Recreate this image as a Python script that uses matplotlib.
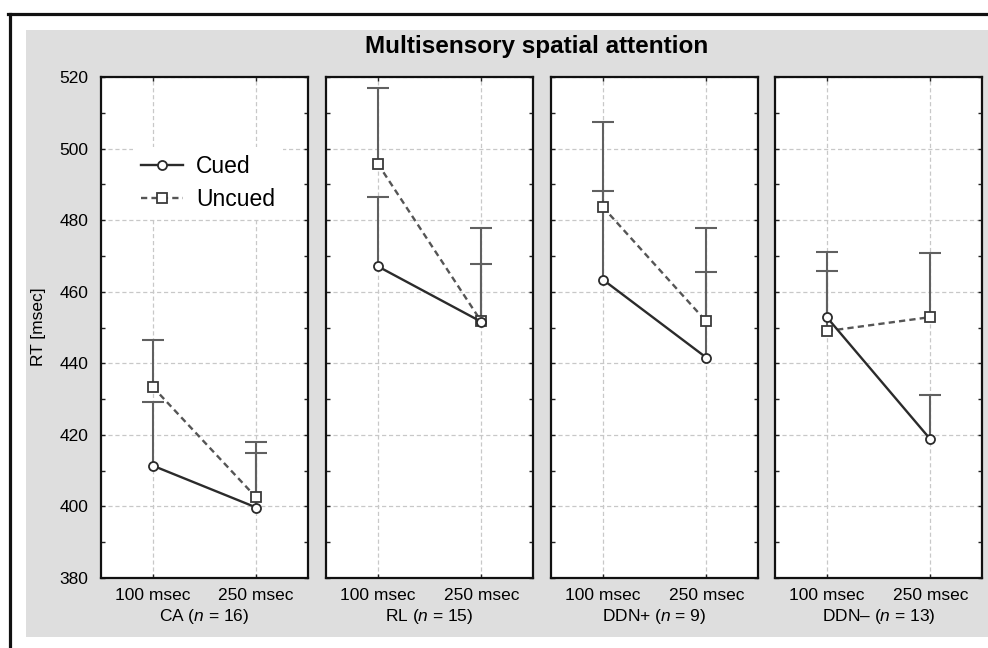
import matplotlib
matplotlib.use('Agg')
import matplotlib.pyplot as plt
from matplotlib.lines import Line2D
from matplotlib.patches import Rectangle
from matplotlib.ticker import MultipleLocator
import numpy as np

plt.rcParams['font.family'] = ['Liberation Sans', 'DejaVu Sans']
plt.rcParams['mathtext.fontset'] = 'custom'
plt.rcParams['mathtext.it'] = 'Liberation Sans:italic'
plt.rcParams['mathtext.rm'] = 'Liberation Sans'
plt.rcParams['lines.scale_dashes'] = False

# data
groups = ['CA', 'RL', 'DDN+', 'DDN\u2013']
group_n = [16, 15, 9, 13]
soa = ['100 msec', '250 msec']
cued_rt = [[411.4, 399.7], [467.1, 451.6], [463.4, 441.6], [452.9, 418.8]]
cued_err = [[17.7, 15.2], [19.5, 16.2], [24.7, 23.8], [18.1, 12.3]]
uncued_rt = [[433.4, 402.5], [495.8, 451.7], [483.7, 451.7], [449.0, 452.9]]
uncued_err = [[13.1, 15.6], [21.2, 26.2], [23.6, 26.2], [16.7, 17.8]]

W, H = 988, 648
fig = plt.figure(figsize=(W / 100, H / 100), dpi=100)

# gray plot area and black frame lines
fig.patches.append(Rectangle((26 / W, 1 - 637 / H), 1, (637 - 30) / H,
                             transform=fig.transFigure, facecolor='#dedede',
                             edgecolor='none', zorder=-10))
fig.add_artist(Line2D([8 / W, 1], [1 - 14 / H, 1 - 14 / H], color='#111111', lw=2.3))
fig.add_artist(Line2D([9.5 / W, 9.5 / W], [0, 1 - 14 / H], color='#111111', lw=2.3))

left_px = [101, 326, 551, 775]
x = np.arange(len(soa))

for i in range(len(groups)):
    ax = fig.add_axes([left_px[i] / W, 1 - 578 / H, 207 / W, 501 / H])
    ax.set_facecolor('white')

    for rt, err in [(cued_rt[i], cued_err[i]), (uncued_rt[i], uncued_err[i])]:
        eb = ax.errorbar(x, rt, yerr=[np.zeros(len(rt)), err], fmt='none',
                         ecolor='#606060', elinewidth=1.5, capsize=8, capthick=1.5, zorder=2)
        # keep only the upper caps
        for cl in eb[1]:
            if np.allclose(cl.get_ydata(), rt):
                cl.set_visible(False)

    ax.plot(x, uncued_rt[i], color='#555555', lw=1.7, ls=(0, (4.5, 3)), marker='s',
            ms=7, mfc='white', mec='#3a3a3a', mew=1.3, zorder=3, label='Uncued')
    ax.plot(x, cued_rt[i], color='#2b2b2b', lw=1.7, ls='-', marker='o',
            ms=6.5, mfc='white', mec='#2b2b2b', mew=1.3, zorder=4, label='Cued')

    ax.set_xlim(-0.5, 1.5)
    ax.set_ylim(380, 520)
    ax.set_xticks(x)
    ax.set_xticklabels(soa, fontsize=12.5)
    ax.yaxis.set_major_locator(MultipleLocator(20))
    ax.yaxis.set_minor_locator(MultipleLocator(10))
    ax.tick_params(which='both', direction='in', top=True, right=True,
                   length=3, width=1, color='#222222')
    ax.tick_params(axis='x', pad=7)
    ax.tick_params(axis='y', labelsize=12.5, pad=9)
    if i > 0:
        ax.tick_params(axis='y', labelleft=False)
    ax.grid(True, color='#c8c8c8', lw=0.9, ls=(0, (3, 2)))
    ax.set_axisbelow(True)
    for sp in ax.spines.values():
        sp.set_linewidth(1.6)
        sp.set_color('#111111')
    ax.set_xlabel(groups[i] + r' ($\mathit{n}$ = ' + str(group_n[i]) + ')',
                  fontsize=12.5, labelpad=3)

    if i == 0:
        h, l = ax.get_legend_handles_labels()
        ax.legend(h[::-1], l[::-1], loc='upper left', bbox_to_anchor=(0.154, 0.861),
                  fontsize=16.5, frameon=True, fancybox=False, edgecolor='none',
                  facecolor='white', framealpha=1, borderaxespad=0, borderpad=0.35,
                  handlelength=1.85, handletextpad=0.55, labelspacing=0.44)

fig.text(39 / W, 1 - 327 / H, 'RT [msec]', rotation=90, ha='center', va='center', fontsize=12.5)
fig.text(537 / W, 1 - 53 / H, 'Multisensory spatial attention', ha='center', va='baseline',
         fontsize=17.5, fontweight='bold')

plt.savefig('out.png', dpi=100)
